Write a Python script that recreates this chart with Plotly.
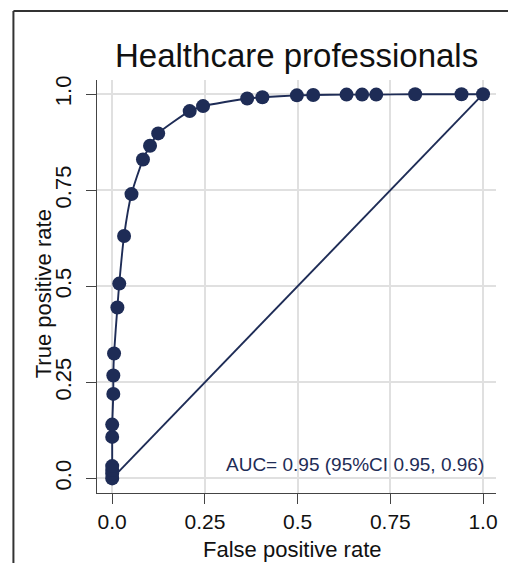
import plotly.graph_objects as go

# ROC operating points (false positive rate, true positive rate)
fpr = [0.000, 0.000, 0.000, 0.000, 0.000, 0.000, 0.003, 0.003, 0.005, 0.014, 0.019,
       0.032, 0.052, 0.083, 0.102, 0.124, 0.209, 0.245, 0.364, 0.405,
       0.498, 0.542, 0.632, 0.674, 0.712, 0.817, 0.942, 1.000]
tpr = [0.000, 0.012, 0.022, 0.032, 0.108, 0.140, 0.220, 0.268, 0.325, 0.445, 0.507,
       0.631, 0.740, 0.830, 0.866, 0.898, 0.956, 0.969, 0.989, 0.992,
       0.997, 0.998, 0.999, 0.999, 0.999, 1.000, 1.000, 1.000]

ref_line = [0.0, 1.0]
tick_vals = [0.0, 0.25, 0.5, 0.75, 1.0]
tick_text = ["0.0", "0.25", "0.5", "0.75", "1.0"]

title_text = "Healthcare professionals"
auc_text = "AUC= 0.95 (95%CI 0.95, 0.96)"

NAVY = "#1e2c56"
FONT = "Liberation Sans, Arial, sans-serif"

fig = go.Figure()

# chance diagonal
fig.add_trace(go.Scatter(
    x=ref_line, y=ref_line, mode="lines",
    line=dict(color=NAVY, width=1.9), hoverinfo="skip", showlegend=False,
))

# empirical ROC curve
fig.add_trace(go.Scatter(
    x=fpr, y=tpr, mode="lines+markers",
    line=dict(color=NAVY, width=1.9, shape="spline", smoothing=0.6),
    marker=dict(color=NAVY, size=14),
    showlegend=False,
))

W, H = 508, 563
L, R, T, B = 97, 10, 80, 70
pw, ph = W - L - R, H - T - B


def px_to_paper(px, py):
    return (px - L) / pw, (H - B - py) / ph


x0, y0 = px_to_paper(13, 11)
x1, y1 = px_to_paper(W + 10, H + 10)

fig.update_layout(
    width=W, height=H,
    margin=dict(l=L, r=R, t=T, b=B),
    paper_bgcolor="white", plot_bgcolor="white",
    font=dict(family=FONT, color="#111111"),
    shapes=[
        # outer frame (left and top edges)
        dict(type="line", xref="paper", yref="paper", x0=x0, y0=y0, x1=x1, y1=y0,
             line=dict(color="#333333", width=2)),
        dict(type="line", xref="paper", yref="paper", x0=x0, y0=y0, x1=x0, y1=y1,
             line=dict(color="#333333", width=2)),
    ],
    annotations=[
        dict(text=title_text, xref="paper", yref="paper",
             x=px_to_paper(298, 0)[0], y=px_to_paper(0, 55)[1],
             xanchor="center", yanchor="middle", showarrow=False,
             font=dict(size=33, family=FONT, color="#111111")),
        dict(text="False positive rate", xref="paper", yref="paper",
             x=px_to_paper(293, 0)[0], y=px_to_paper(0, 549)[1],
             xanchor="center", yanchor="middle", showarrow=False,
             font=dict(size=22, family=FONT, color="#111111")),
        dict(text="True positive rate", xref="paper", yref="paper",
             x=px_to_paper(43, 0)[0], y=px_to_paper(0, 294)[1],
             xanchor="center", yanchor="middle", showarrow=False, textangle=-90,
             font=dict(size=22, family=FONT, color="#111111")),
        dict(text=auc_text, xref="x", yref="y", x=1.008, y=0.036,
             xanchor="right", yanchor="middle", showarrow=False,
             font=dict(size=19, family=FONT, color=NAVY)),
    ],
)

fig.update_xaxes(
    range=[-0.041, 1.035], tickvals=tick_vals, ticktext=tick_text,
    showgrid=True, gridcolor="#e0e0e0", gridwidth=1.6, zeroline=False,
    showline=True, linecolor="#444444", linewidth=1.2,
    ticks="outside", ticklen=10, tickcolor="#444444", tickwidth=1.2,
    tickfont=dict(size=21, family=FONT, color="#111111"),
    ticklabelstandoff=0,
)
fig.update_yaxes(
    range=[-0.038, 1.037], tickvals=tick_vals, ticktext=tick_text,
    showgrid=True, gridcolor="#e0e0e0", gridwidth=1.6, zeroline=False,
    showline=True, linecolor="#444444", linewidth=1.2,
    ticks="outside", ticklen=10, tickcolor="#444444", tickwidth=1.2,
    tickangle=-90,
    tickfont=dict(size=22, family=FONT, color="#111111"),
    ticklabelstandoff=6,
)

fig.write_html("out.html")
